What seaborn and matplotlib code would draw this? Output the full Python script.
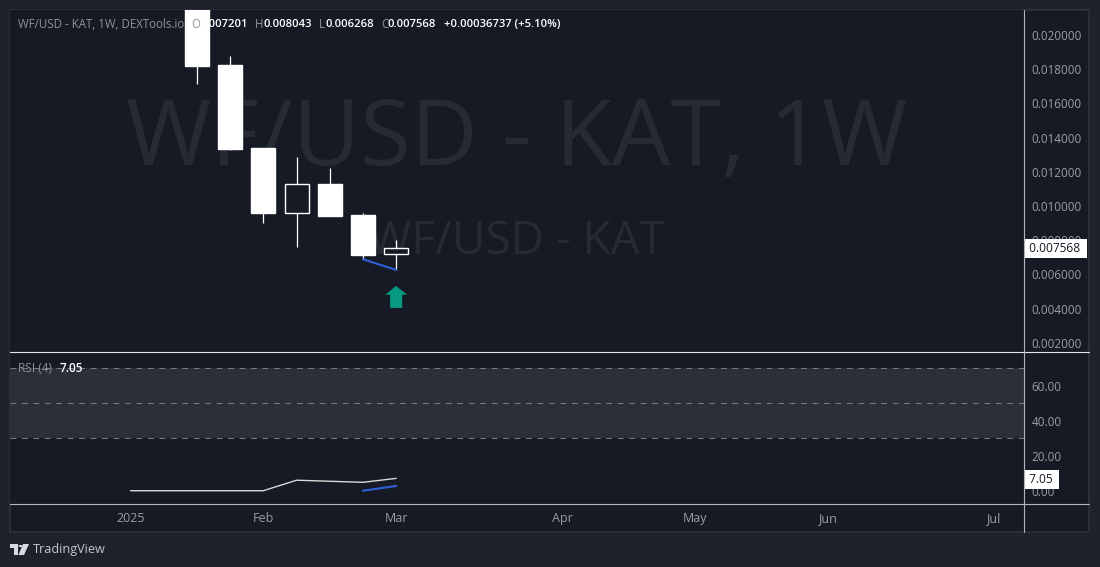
"""Weekly WF/USD candles with an RSI pane, dark TradingView look."""

import matplotlib

matplotlib.use("Agg")
import matplotlib.pyplot as plt
import pandas as pd
import seaborn as sns
from matplotlib.lines import Line2D
from matplotlib.patches import PathPatch, Rectangle
from matplotlib.path import Path

WIDTH, HEIGHT = 1100, 567

OUTER_BG = "#1e222d"
PANE_BG = "#161a25"
BORDER = "#2a2e39"
SEPARATOR = "#d1d4dc"
GRAY_TEXT = "#9a9da6"
WATERMARK = "#262a35"
BLUE = "#2f5fd8"
GREEN = "#089981"
BAND = "#2c2e39"

# candles, x is the weekly bar index
candle_idx = [0, 1, 2, 3, 4, 5, 6]
candle_open = [0.02320, 0.01825, 0.01340, 0.00961, 0.01129, 0.00948, 0.007201]
candle_close = [0.01819, 0.01334, 0.00960, 0.01127, 0.00944, 0.00716, 0.007568]
candle_high = [0.02320, 0.01877, 0.01340, 0.01287, 0.01223, 0.00958, 0.008043]
candle_low = [0.01714, 0.01330, 0.00901, 0.00763, 0.00944, 0.00689, 0.006268]

divergence_idx = [5, 6]
divergence_price = [0.00689, 0.006268]
arrow_idx = [6]
arrow_price = [0.00469]

rsi_idx = [-2, -1, 0, 1, 2, 3, 4, 5, 6]
rsi_values = [0.0, 0.0, 0.0, 0.0, 0.0, 6.0, 5.4, 4.8, 7.05]
rsi_div_idx = [5, 6]
rsi_div_values = [0.0, 2.7]

month_ticks = [-2, 2, 6, 11, 15, 19, 24]
month_labels = ["2025", "Feb", "Mar", "Apr", "May", "Jun", "Jul"]
price_ticks = [0.002, 0.004, 0.006, 0.008, 0.010, 0.012, 0.014, 0.016, 0.018, 0.020]
rsi_ticks = [0, 20, 40, 60]
rsi_levels = [70, 50, 30]

last_price = 0.007568
last_rsi = 7.05

legend_parts = [
    (18, "WF/USD - KAT, 1W, DEXTools.io", "#8f929b"),
    (191, "O", "#8f929b"),
    (199, "0.007201", "white"),
    (254.5, "H", "#8f929b"),
    (263, "0.008043", "white"),
    (319, "L", "#8f929b"),
    (325, "0.006268", "white"),
    (381.5, "C", "#8f929b"),
    (388, "0.007568", "white"),
    (444, "+0.00036737 (+5.10%)", "white"),
]


def fx(px):
    return px / WIDTH


def fy(px):
    return 1 - px / HEIGHT


def add_pane(fig, top, bottom):
    ax = fig.add_axes([fx(10), fy(bottom), fx(1024 - 10), (bottom - top) / HEIGHT])
    ax.set_facecolor(PANE_BG)
    ax.grid(False)
    for spine in ax.spines.values():
        spine.set_visible(False)
    ax.yaxis.tick_right()
    ax.tick_params(axis="y", length=0, pad=5.5, labelsize=8.4, labelcolor=GRAY_TEXT)
    ax.set_xlim(-5.634, 24.916)
    ax.set_xlabel("")
    ax.set_ylabel("")
    return ax


def draw_candles(ax):
    df = pd.DataFrame(
        {
            "idx": candle_idx,
            "open": candle_open,
            "close": candle_close,
            "high": candle_high,
            "low": candle_low,
        }
    )
    ax.vlines(df["idx"], df["low"], df["high"], color="white", lw=0.9, zorder=2)
    for row in df.itertuples():
        bottom = min(row.open, row.close)
        height = abs(row.close - row.open)
        is_up = row.close > row.open
        ax.bar(
            row.idx,
            height,
            bottom=bottom,
            width=0.72,
            facecolor=PANE_BG if is_up else "white",
            edgecolor="white",
            linewidth=1,
            zorder=3,
        )


def draw_tag(ax, value, label):
    ax.annotate(
        f" {label} ",
        xy=(1, value),
        xycoords=ax.get_yaxis_transform(),
        xytext=(1.8, -0.5),
        textcoords="offset points",
        ha="left",
        va="center",
        fontsize=8.6,
        color="#131722",
        annotation_clip=False,
        zorder=6,
        bbox=dict(boxstyle="square,pad=0.25", facecolor="white", edgecolor="none"),
    )


def draw_logo(fig):
    # small TradingView mark, flat shapes in pixel space
    to_fig = lambda pts: [(fx(x), fy(y)) for x, y in pts]
    bar = [(10, 544), (18, 544), (18, 555), (14, 555), (14, 548), (10, 548), (10, 544)]
    slash = [(23, 544), (29, 544), (24, 555), (18.5, 555), (23, 544)]
    for pts in (bar, slash):
        fig.add_artist(
            PathPatch(Path(to_fig(pts)), facecolor="#d8dae0", edgecolor="none", transform=fig.transFigure)
        )
    fig.add_artist(
        plt.Circle((fx(20.5), fy(546)), 2 / WIDTH, facecolor="#d8dae0", edgecolor="none", transform=fig.transFigure)
    )
    fig.text(fx(33), fy(549), "TradingView", color="#c4c6cc", fontsize=9.1, va="center", ha="left")


def main():
    sns.set_theme(style="dark")
    plt.rcParams["font.family"] = ["Open Sans", "DejaVu Sans"]

    fig = plt.figure(figsize=(WIDTH / 100, HEIGHT / 100), dpi=100, facecolor=OUTER_BG)

    fig.add_artist(
        Rectangle(
            (fx(10), fy(532)),
            1079 / WIDTH,
            522 / HEIGHT,
            facecolor=PANE_BG,
            edgecolor=BORDER,
            linewidth=1.5,
            transform=fig.transFigure,
            zorder=-1,
        )
    )

    ax_price = add_pane(fig, 10, 352)
    ax_rsi = add_pane(fig, 352, 504)

    # price pane
    ax_price.set_ylim(0.00147, 0.02146)
    ax_price.text(0.5, 0.615, "WF/USD - KAT, 1W", transform=ax_price.transAxes, ha="center", va="center",
                  fontsize=66.5, color=WATERMARK, zorder=0)
    ax_price.text(0.5, 0.323, "WF/USD - KAT", transform=ax_price.transAxes, ha="center", va="center",
                  fontsize=33, color=WATERMARK, zorder=0)
    draw_candles(ax_price)
    sns.lineplot(x=divergence_idx, y=divergence_price, ax=ax_price, color=BLUE, linewidth=1.5, zorder=4)
    arrow = Path(
        [(0, 1), (1, 0.2), (0.55, 0.2), (0.55, -1), (-0.55, -1), (-0.55, 0.2), (-1, 0.2), (0, 1)],
        closed=True,
    )
    sns.scatterplot(x=arrow_idx, y=arrow_price, ax=ax_price, marker=arrow, s=250, color=GREEN,
                    edgecolor="none", linewidth=0, zorder=4)
    ax_price.set_yticks(price_ticks, [f"{t:.6f}" for t in price_ticks])
    ax_price.set_xticks([])
    draw_tag(ax_price, last_price, f"{last_price:.6f}")

    # RSI pane
    ax_rsi.set_ylim(-7.6, 79.3)
    ax_rsi.axhspan(rsi_levels[2], rsi_levels[0], color=BAND, linewidth=0, zorder=0)
    for level in rsi_levels:
        ax_rsi.axhline(level, color="#787b86", lw=0.75, dashes=(5.5, 5.5), zorder=1)
    sns.lineplot(x=rsi_idx, y=rsi_values, ax=ax_rsi, color="#d8d8d8", linewidth=1, zorder=3)
    sns.lineplot(x=rsi_div_idx, y=rsi_div_values, ax=ax_rsi, color=BLUE, linewidth=1.5, zorder=3)
    ax_rsi.set_yticks(rsi_ticks, [f"{t:.2f}" for t in rsi_ticks])
    ax_rsi.set_xticks(month_ticks, month_labels)
    ax_rsi.tick_params(axis="x", length=0, pad=6, labelsize=9, labelcolor=GRAY_TEXT)
    draw_tag(ax_rsi, last_rsi, f"{last_rsi:.2f}")

    # separators between panes and scales
    fig.add_artist(Line2D([fx(10), fx(1089)], [fy(352), fy(352)], color="#e8e9ed", lw=0.8))
    fig.add_artist(Line2D([fx(10), fx(1089)], [fy(504), fy(504)], color="#b2b5be", lw=0.8))
    fig.add_artist(Line2D([fx(1024), fx(1024)], [fy(10), fy(532)], color="#b2b5be", lw=0.8))

    # legends on top of the marks
    for x, label, color in legend_parts:
        is_value = color == "white"
        fig.text(fx(x), fy(24.5), label, color=color, fontsize=8.1 if is_value else 8.3, va="center", ha="left",
                 fontweight="semibold" if is_value else "normal", zorder=5)
    fig.text(fx(18), fy(368), "RSI (4)", color="#8f929b", fontsize=8.6, va="center", ha="left", zorder=5)
    fig.text(fx(60), fy(368), "7.05", color="white", fontsize=8.6, va="center", ha="left", fontweight="semibold", zorder=5)

    draw_logo(fig)

    fig.savefig("out.png", dpi=100, facecolor=OUTER_BG)
    plt.close(fig)


if __name__ == "__main__":
    main()
